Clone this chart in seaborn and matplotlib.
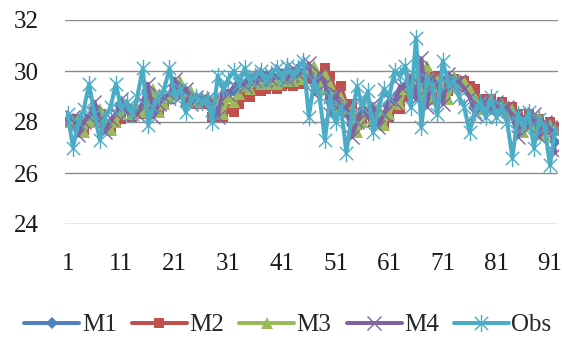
import numpy as np
import pandas as pd
import matplotlib
matplotlib.use("Agg")
import matplotlib.pyplot as plt
from matplotlib.path import Path
import seaborn as sns

# ---------------- data ----------------
days = list(range(1, 93))
obs = [28.3, 27.0, 28.0, 28.5, 29.5, 28.3, 27.3, 28.2, 28.6, 29.5,
       28.5, 28.8, 28.3, 29.0, 30.1, 27.9, 28.6, 29.0, 29.3, 30.1,
       29.0, 29.3, 28.4, 28.9, 29.0, 28.8, 28.9, 28.0, 29.8, 29.3,
       29.7, 30.0, 29.5, 30.1, 29.6, 29.8, 30.0, 29.6, 29.9, 30.1,
       29.7, 30.2, 29.8, 30.1, 30.4, 28.2, 29.6, 29.0, 27.3, 29.0,
       28.0, 28.6, 26.8, 28.2, 29.4, 28.6, 29.2, 27.6, 28.5, 29.3,
       29.0, 30.0, 29.8, 30.2, 28.6, 31.3, 27.8, 29.7, 29.4, 28.3,
       30.4, 29.5, 29.6, 29.0, 28.6, 27.6, 28.4, 28.8, 28.2, 29.0,
       28.2, 28.6, 28.0, 26.6, 28.3, 27.8, 28.4, 27.0, 28.1, 27.8,
       26.3, 27.7]
m1 = [28.0, 28.1, 27.8, 27.8, 28.1, 28.4, 28.3, 27.8, 27.9, 28.2,
      28.6, 28.5, 28.4, 28.4, 28.6, 29.1, 28.7, 28.5, 28.8, 29.0,
      29.4, 29.3, 29.2, 28.9, 28.9, 28.9, 28.9, 28.8, 28.5, 28.8,
      29.1, 29.2, 29.5, 29.5, 29.6, 29.7, 29.7, 29.8, 29.8, 29.7,
      29.9, 29.8, 29.9, 30.0, 29.9, 30.1, 29.6, 29.6, 29.7, 28.9,
      28.8, 28.7, 28.5, 27.9, 27.8, 28.3, 28.3, 28.4, 28.2, 28.1,
      28.6, 28.8, 29.0, 29.3, 29.5, 29.3, 29.7, 29.4, 29.3, 29.6,
      29.1, 29.4, 29.6, 29.5, 29.4, 29.1, 28.6, 28.5, 28.7, 28.6,
      28.6, 28.5, 28.5, 28.3, 27.8, 27.9, 28.0, 28.1, 27.8, 27.7,
      27.8, 27.2]
m2 = [28.0, 28.0, 28.1, 27.7, 28.1, 28.1, 28.3, 27.9, 27.7, 28.0,
      28.1, 28.5, 28.2, 28.4, 28.3, 28.6, 29.0, 28.4, 28.7, 28.9,
      29.1, 29.3, 28.8, 28.9, 28.7, 28.7, 28.7, 28.2, 28.2, 28.2,
      28.5, 28.4, 28.7, 29.0, 29.0, 29.2, 29.2, 29.3, 29.4, 29.3,
      29.4, 29.5, 29.4, 29.6, 29.5, 29.7, 29.9, 29.6, 30.1, 29.8,
      29.2, 29.4, 28.7, 28.7, 27.9, 28.1, 28.3, 28.0, 28.2, 27.9,
      28.2, 28.5, 28.5, 29.0, 29.1, 29.3, 29.0, 29.9, 29.0, 29.8,
      29.6, 29.2, 29.7, 29.4, 29.6, 29.4, 29.3, 28.8, 28.9, 28.9,
      28.6, 28.8, 28.4, 28.6, 28.3, 27.9, 28.3, 28.0, 28.1, 27.7,
      28.0, 27.8]
m3 = [28.0, 28.0, 28.1, 27.6, 28.0, 28.1, 28.5, 28.0, 27.7, 28.0,
      28.3, 28.7, 28.3, 28.5, 28.4, 28.7, 29.3, 28.4, 28.7, 29.0,
      29.1, 29.6, 29.1, 29.2, 28.8, 28.9, 28.9, 28.8, 28.8, 28.3,
      29.0, 28.8, 29.1, 29.4, 29.3, 29.6, 29.5, 29.5, 29.7, 29.5,
      29.6, 29.8, 29.6, 29.9, 29.7, 30.0, 30.2, 29.3, 29.9, 29.5,
      28.5, 29.0, 28.4, 28.5, 27.6, 28.0, 28.5, 28.1, 28.6, 27.9,
      28.3, 28.8, 28.7, 29.3, 29.3, 29.7, 29.0, 30.2, 28.9, 29.7,
      29.5, 28.9, 29.8, 29.5, 29.6, 29.3, 29.0, 28.5, 28.7, 28.8,
      28.5, 28.7, 28.4, 28.5, 28.2, 27.6, 28.2, 27.9, 28.2, 27.5,
      27.9, 27.7]
m4 = [28.0, 28.2, 27.5, 28.0, 28.2, 28.8, 28.1, 27.6, 28.1, 28.3,
      28.9, 28.4, 28.6, 28.3, 28.8, 29.5, 28.2, 28.7, 29.0, 29.1,
      29.7, 29.0, 29.3, 28.7, 29.0, 28.9, 28.9, 28.8, 28.2, 29.3,
      29.1, 29.4, 29.7, 29.4, 29.8, 29.6, 29.7, 29.9, 29.7, 29.8,
      30.0, 29.7, 30.1, 29.9, 30.0, 30.3, 29.1, 29.9, 29.5, 28.3,
      29.1, 28.4, 28.6, 27.4, 28.0, 28.7, 28.2, 28.7, 27.8, 28.3,
      28.9, 28.8, 29.4, 29.4, 29.8, 28.9, 30.5, 28.6, 29.7, 29.5,
      28.7, 29.9, 29.5, 29.6, 29.3, 29.0, 28.3, 28.6, 28.8, 28.4,
      28.8, 28.4, 28.6, 28.2, 27.4, 28.2, 27.8, 28.3, 27.4, 28.0,
      27.8, 26.8]
series_names = ["M1", "M2", "M3", "M4", "Obs"]
x_tick_labels = ["1", "11", "21", "31", "41", "51", "61", "71", "81", "91"]
y_ticks = [24, 26, 28, 30, 32]

# ---------------- style ----------------
sns.set_theme(style="white")
plt.rcParams["font.family"] = ["Liberation Serif", "DejaVu Serif"]

star = Path([(-1, -1), (1, 1), (-1, 1), (1, -1), (0, -1.3), (0, 1.3)],
            [Path.MOVETO, Path.LINETO, Path.MOVETO, Path.LINETO, Path.MOVETO, Path.LINETO])

styles = {
    "M1": dict(color="#4F81BD", marker="D", ms=6, mew=0, mfc="#4F81BD"),
    "M2": dict(color="#C0504D", marker="s", ms=7, mew=0, mfc="#C0504D"),
    "M3": dict(color="#9BBB59", marker="^", ms=8, mew=0, mfc="#9BBB59"),
    "M4": dict(color="#8064A2", marker="x", ms=10, mew=1.0, mfc="none"),
    "Obs": dict(color="#4BACC6", marker=star, ms=12.5, mew=1.0, mfc="none"),
}

df = pd.DataFrame({"day": days * 5,
                   "value": m1 + m2 + m3 + m4 + obs,
                   "series": sum([[n] * len(days) for n in series_names], [])})

fig = plt.figure(figsize=(5.62, 3.45), dpi=100)
ax = fig.add_axes([65 / 562, 1 - 224 / 345, 493 / 562, 204 / 345])

for name in series_names:
    st = styles[name]
    sub = df[df["series"] == name]
    sns.lineplot(data=sub, x="day", y="value", ax=ax, color=st["color"],
                 linewidth=2.9, marker=st["marker"], markersize=st["ms"],
                 markeredgewidth=st["mew"], markeredgecolor=st["color"],
                 markerfacecolor=st["mfc"], label=name, legend=False)

ax.set_xlim(0.5, 92.5)
ax.set_ylim(24, 32)
ax.set_yticks(y_ticks)
ax.set_yticklabels([str(v) for v in y_ticks])
ax.set_xticks([int(t) for t in x_tick_labels])
ax.set_xticklabels(x_tick_labels)
ax.grid(axis="y", color="#8a8a8a", linewidth=1.0)
ax.grid(axis="x", visible=False)
ax.set_axisbelow(True)
for s in ax.spines.values():
    s.set_visible(False)
ax.tick_params(axis="y", length=0, pad=19, labelsize=18, colors="#1a1a1a")
ax.tick_params(axis="x", length=0, pad=21, labelsize=18, colors="#1a1a1a")
ax.set_xlabel("")
ax.set_ylabel("")

handles, labels = ax.get_legend_handles_labels()
fig.legend(handles, labels, loc="center", bbox_to_anchor=(288 / 562, 1 - 325 / 345),
           ncol=5, frameon=False, fontsize=18, handlelength=2.2, handletextpad=0.1,
           columnspacing=0.6, numpoints=1, borderaxespad=0, borderpad=0)

fig.savefig("out.png", dpi=100)
